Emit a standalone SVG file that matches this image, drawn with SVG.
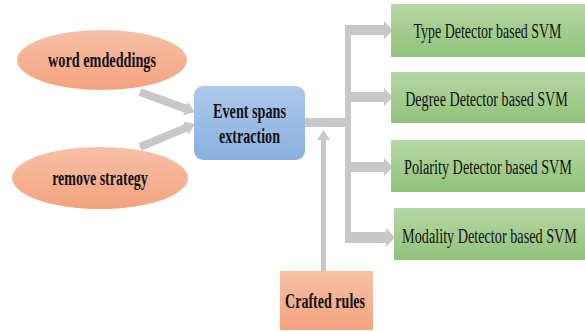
<svg xmlns="http://www.w3.org/2000/svg" width="585" height="332" viewBox="0 0 585 332">
<style>
.b{font-family:"Liberation Serif","Times New Roman",serif;font-weight:bold;font-size:21px;fill:#111;text-anchor:middle}
.n{font-family:"Liberation Serif","Times New Roman",serif;font-size:20px;fill:#111;text-anchor:middle}
.c{fill:#c8c8c8}
</style>
<defs>
<linearGradient id="go" x1="0" y1="0" x2="0" y2="1"><stop offset="0" stop-color="#f7c1a7"/><stop offset="1" stop-color="#f4a37e"/></linearGradient>
<linearGradient id="gb" x1="0" y1="0" x2="0" y2="1"><stop offset="0" stop-color="#adc9ec"/><stop offset="1" stop-color="#8ab0df"/></linearGradient>
<linearGradient id="gg" x1="0" y1="0" x2="0" y2="1"><stop offset="0" stop-color="#b6d8a4"/><stop offset="1" stop-color="#90c37a"/></linearGradient>
</defs>
<g id="connectors">
<polygon class="c" points="138.6,95.8 184.2,112.4 183.2,115.2 195,112 188,102 187,104.8 141.4,88.2"/>
<polygon class="c" points="141.5,150.7 187.3,131.6 188.5,134.4 195,124 183.1,121.4 184.3,124.2 138.5,143.3"/>
<rect class="c" x="305" y="118" width="46" height="9"/>
<rect class="c" x="345" y="25" width="6" height="218"/>
<polygon class="c" points="345,25 384,25 384,21 393,30 384,39 384,35 345,35"/>
<polygon class="c" points="345,92 384,92 384,88 393,97 384,106 384,102 345,102"/>
<polygon class="c" points="345,162 384,162 384,158 393,167 384,176 384,172 345,172"/>
<polygon class="c" points="345,232 386,232 386,228 395,237.5 386,247 386,243 345,243"/>
<polygon class="c" points="321,271 321,140 317,140 323.5,130 330,140 326,140 326,271"/>
</g>
<g id="word-embeddings">
<ellipse cx="102" cy="60" rx="85" ry="30" fill="url(#go)"/>
<text class="b" transform="translate(102,67) scale(0.678,1)">word emdeddings</text>
</g>
<g id="remove-strategy">
<ellipse cx="100" cy="178" rx="88" ry="31" fill="url(#go)"/>
<text class="b" transform="translate(100,185) scale(0.667,1)">remove strategy</text>
</g>
<g id="event-spans">
<rect x="194" y="86" width="111" height="74" rx="9" fill="url(#gb)"/>
<text class="b" transform="translate(249.5,118) scale(0.676,1)">Event spans</text>
<text class="b" transform="translate(249.5,143) scale(0.67,1)">extraction</text>
</g>
<g id="type-detector">
<rect x="391" y="4" width="194" height="53" fill="url(#gg)"/>
<text class="n" transform="translate(487.5,38) scale(0.697,1)">Type Detector based SVM</text>
</g>
<g id="degree-detector">
<rect x="391" y="72" width="194" height="51" fill="url(#gg)"/>
<text class="n" transform="translate(486.5,106) scale(0.707,1)">Degree Detector based SVM</text>
</g>
<g id="polarity-detector">
<rect x="391" y="140" width="194" height="52" fill="url(#gg)"/>
<text class="n" transform="translate(488,174) scale(0.712,1)">Polarity Detector based SVM</text>
</g>
<g id="modality-detector">
<rect x="394" y="208" width="191" height="52" fill="url(#gg)"/>
<text class="n" transform="translate(489.5,243) scale(0.711,1)">Modality Detector based SVM</text>
</g>
<g id="crafted-rules">
<rect x="280" y="271" width="93" height="59" fill="url(#go)"/>
<text class="b" transform="translate(325,308) scale(0.669,1)">Crafted rules</text>
</g>
</svg>
